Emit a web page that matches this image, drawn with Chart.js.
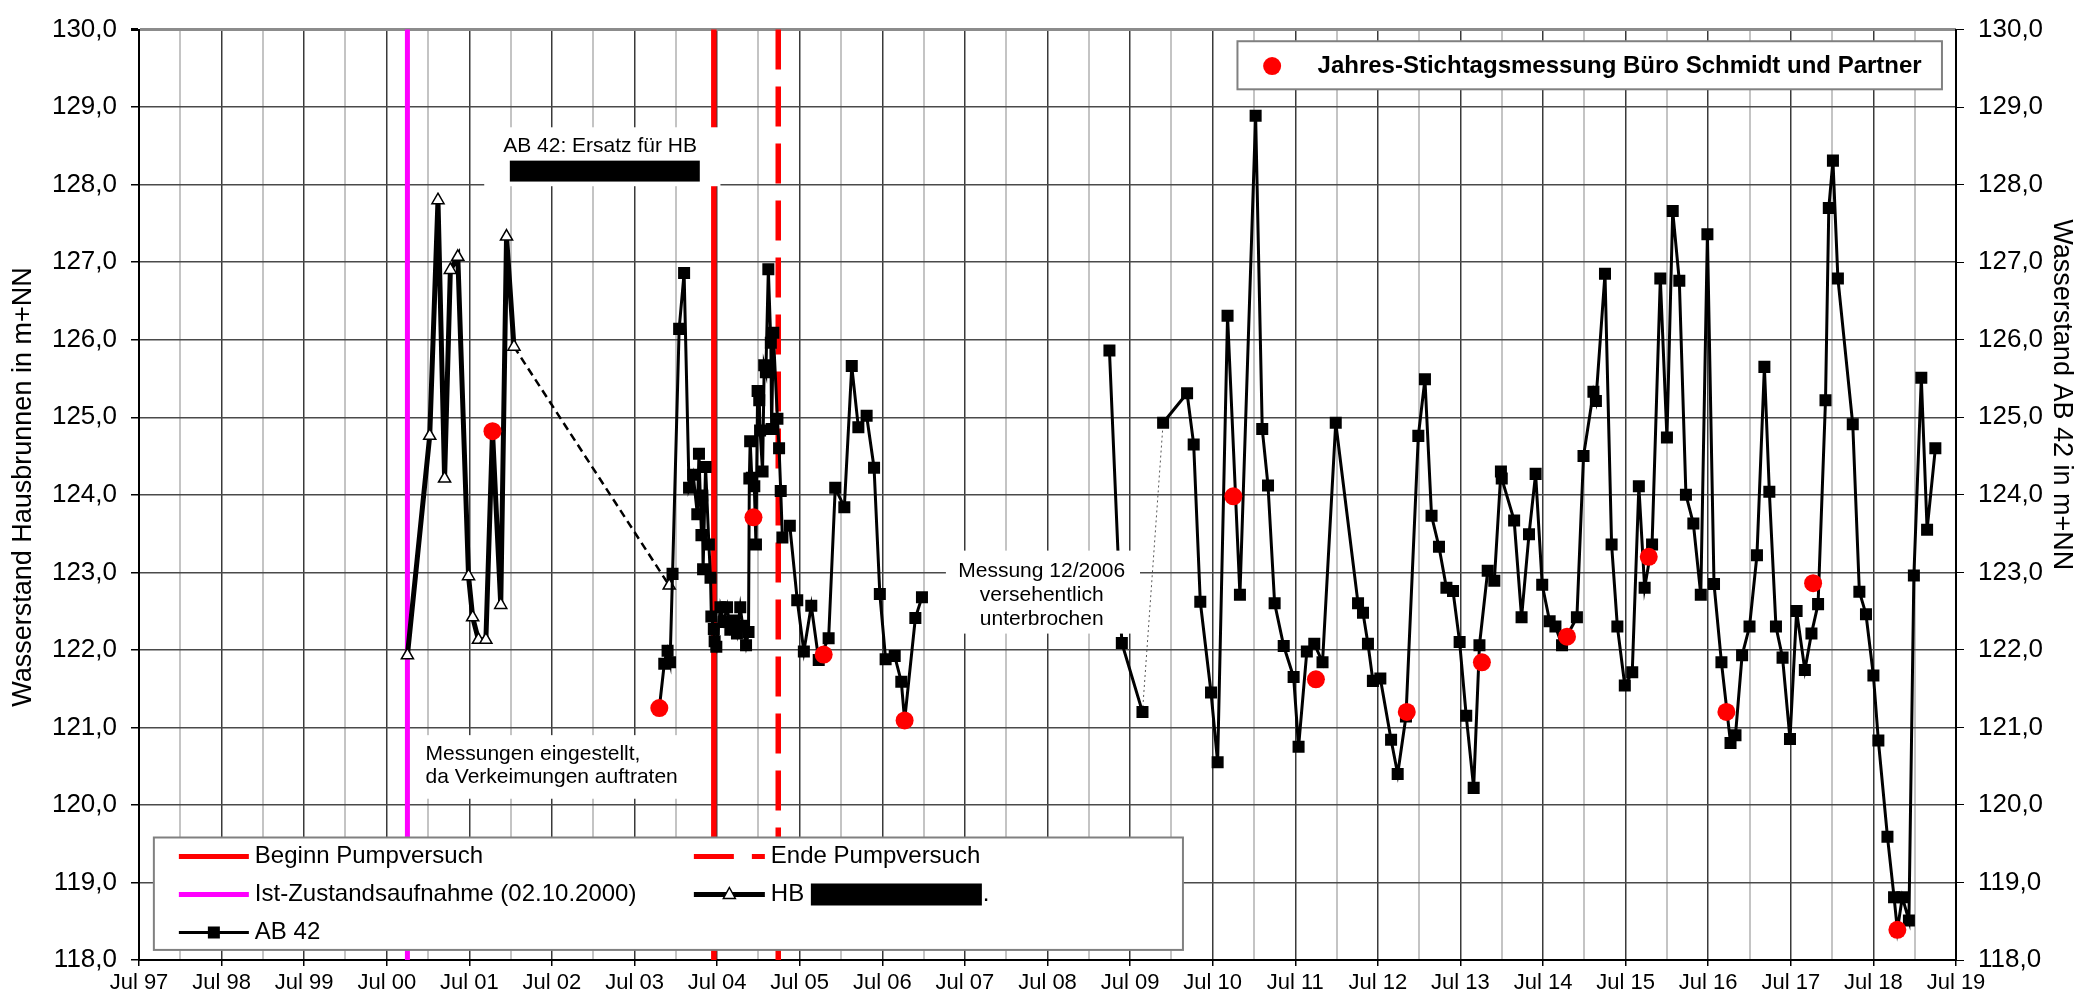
<!DOCTYPE html>
<html>
<head>
<meta charset="utf-8">
<script src="https://cdn.jsdelivr.net/npm/chart.js"></script>
<style>
html, body { margin: 0; padding: 0; background: #fff; }
</style>
</head>
<body>
<canvas id="levelChart" width="2076" height="997"></canvas>
<script>
// x values are decimal years (2004.5 = Jul 04), y values in m+NN
const tickLabels = ["Jul 97", "Jul 98", "Jul 99", "Jul 00", "Jul 01", "Jul 02", "Jul 03", "Jul 04",
    "Jul 05", "Jul 06", "Jul 07", "Jul 08", "Jul 09", "Jul 10", "Jul 11", "Jul 12", "Jul 13",
    "Jul 14", "Jul 15", "Jul 16", "Jul 17", "Jul 18", "Jul 19"]

const hbDates = [2000.75, 2001.02, 2001.12, 2001.20, 2001.27, 2001.36, 2001.49, 2001.54,
    2001.61, 2001.70, 2001.78, 2001.88, 2001.95, 2002.04, 2003.92]
const hbLevels = [121.93, 124.76, 127.80, 124.21, 126.90, 127.07, 122.95, 122.42,
    122.13, 122.13, 124.82, 122.58, 127.33, 125.91, 122.83]

const ab42Dates = [
    2003.80, 2003.86, 2003.90, 2003.93, 2003.96, 2004.04, 2004.10, 2004.16, 2004.21, 2004.26,
    2004.28, 2004.31, 2004.32, 2004.33, 2004.36, 2004.40, 2004.42, 2004.43, 2004.46, 2004.47,
    2004.49, 2004.54, 2004.58, 2004.62, 2004.66, 2004.70, 2004.74, 2004.78, 2004.81, 2004.85,
    2004.88, 2004.89, 2004.90, 2004.92, 2004.95, 2004.97, 2004.99, 2005.01, 2005.02, 2005.05,
    2005.07, 2005.09, 2005.12, 2005.15, 2005.16, 2005.18, 2005.23, 2005.25, 2005.27, 2005.29,
    2005.38, 2005.47, 2005.55, 2005.64, 2005.73, 2005.85, 2005.93, 2006.04, 2006.13, 2006.21,
    2006.31, 2006.40, 2006.47, 2006.54, 2006.65, 2006.73, 2006.77, 2006.90, 2006.98, 2008.00,
    2009.25, 2009.40, 2009.65, 2009.90, 2010.19, 2010.27, 2010.35, 2010.48, 2010.56, 2010.68,
    2010.83, 2011.02, 2011.10, 2011.17, 2011.25, 2011.36, 2011.48, 2011.54, 2011.64, 2011.73,
    2011.83, 2011.99, 2012.26, 2012.32, 2012.38, 2012.44, 2012.53, 2012.66, 2012.74, 2012.84,
    2012.99, 2013.07, 2013.15, 2013.24, 2013.33, 2013.41, 2013.49, 2013.57, 2013.66, 2013.73,
    2013.83, 2013.91, 2013.99, 2014.00, 2014.15, 2014.24, 2014.33, 2014.41, 2014.49, 2014.58,
    2014.65, 2014.73, 2014.91, 2014.99, 2015.11, 2015.14, 2015.25, 2015.33, 2015.40, 2015.49,
    2015.58, 2015.66, 2015.73, 2015.82, 2015.92, 2016.00, 2016.07, 2016.15, 2016.23, 2016.32,
    2016.41, 2016.49, 2016.57, 2016.66, 2016.77, 2016.83, 2016.91, 2017.00, 2017.09, 2017.18,
    2017.24, 2017.32, 2017.40, 2017.49, 2017.57, 2017.67, 2017.75, 2017.83, 2017.92, 2017.96,
    2018.01, 2018.07, 2018.25, 2018.33, 2018.41, 2018.50, 2018.56, 2018.67, 2018.75, 2018.79,
    2018.85, 2018.93, 2018.99, 2019.08, 2019.15, 2019.25]
const ab42Levels = [
    121.25, 121.82, 121.99, 121.84, 122.98, 126.14, 126.86, 124.09, 124.26, 123.75,
    124.53, 123.48, 123.99, 123.04, 124.36, 123.36, 122.93, 122.43, 122.27, 122.11,
    122.04, 122.55, 122.36, 122.55, 122.26, 122.38, 122.21, 122.55, 122.31, 122.06,
    122.23, 124.21, 124.69, 124.22, 124.11, 123.36, 125.34, 125.22, 124.83, 124.30,
    125.67, 125.58, 126.91, 125.96, 124.85, 126.09, 124.98, 124.60, 124.05, 123.45,
    123.60, 122.64, 121.98, 122.57, 121.87, 122.15, 124.09, 123.84, 125.66, 124.87,
    125.02, 124.35, 122.72, 121.88, 121.92, 121.59, 121.09, 122.41, 122.68, null,
    125.86, 122.09, 121.20, 124.93, 125.31, 124.65, 122.62, 121.45, 120.55, 126.31,
    122.71, 128.89, 124.85, 124.12, 122.60, 122.05, 121.65, 120.75, 121.98, 122.08,
    121.84, 124.93, 122.60, 122.48, 122.08, 121.60, 121.63, 120.84, 120.40, 121.14,
    124.76, 125.49, 123.73, 123.33, 122.80, 122.76, 122.10, 121.15, 120.22, 122.06,
    123.02, 122.89, 124.30, 124.21, 123.67, 122.42, 123.49, 124.27, 122.84, 122.37,
    122.30, 122.06, 122.42, 124.50, 125.33, 125.21, 126.85, 123.36, 122.30, 121.54,
    121.71, 124.11, 122.80, 123.36, 126.79, 124.74, 127.66, 126.76, 124.00, 123.63,
    122.71, 127.36, 122.85, 121.84, 120.80, 120.90, 121.93, 122.30, 123.22, 125.65,
    124.04, 122.30, 121.90, 120.85, 122.50, 121.74, 122.21, 122.59, 125.22, 127.70,
    128.31, 126.79, 124.91, 122.75, 122.46, 121.67, 120.83, 119.59, 118.81, 118.39,
    118.81, 118.51, 122.96, 125.51, 123.55, 124.60]
// the interrupted stretch after 12/2006 restarts with a dotted link
const ab42DottedFrom = 2009.65

const stichDates = [2001.78, 2003.80, 2004.94, 2005.79, 2006.77, 2010.75, 2011.75,
    2012.85, 2013.76, 2014.79, 2015.78, 2016.72, 2017.77, 2018.79]
const stichLevels = [124.82, 121.25, 123.71, 121.94, 121.09, 123.98, 121.62,
    121.20, 121.84, 122.17, 123.20, 121.20, 122.86, 118.39]

const istZustand = 2000.75
const pumpBegin = 2004.46
const pumpEnd = 2005.24

const xStart = 1997.5
const xEnd = 2019.5
const fontFamily = "'Liberation Sans', Arial, sans-serif"

const toPoints = (xs, ys) => xs.map((x, i) => ({x: x, y: ys[i]}))
const isJuly = v => Math.abs(v - Math.floor(v) - 0.5) < 0.01

const halfYears = []
for(let v = xStart; v <= xEnd + 0.001; v += 0.5)
{
    halfYears.push(v)
}

function vline(chart, value, color, width, dash)
{
    const {ctx, chartArea, scales} = chart
    const px = scales.x.getPixelForValue(value)
    ctx.save()
    ctx.strokeStyle = color
    ctx.lineWidth = width
    ctx.setLineDash(dash)
    ctx.beginPath()
    ctx.moveTo(px, chartArea.top)
    ctx.lineTo(px, chartArea.bottom)
    ctx.stroke()
    ctx.restore()
}

function text(ctx, str, x, y, size, align, bold)
{
    ctx.font = (bold ? "bold " : "") + size + "px " + fontFamily
    ctx.fillStyle = "#000"
    ctx.textAlign = align
    ctx.textBaseline = "middle"
    ctx.fillText(str, x, y)
}

function sampleLine(ctx, x0, x1, y, color, width, dash)
{
    ctx.save()
    ctx.strokeStyle = color
    ctx.lineWidth = width
    ctx.setLineDash(dash)
    ctx.beginPath()
    ctx.moveTo(x0, y)
    ctx.lineTo(x1, y)
    ctx.stroke()
    ctx.restore()
}

const markerLines = {
    id: "markerLines",
    beforeDatasetsDraw(chart)
    {
        vline(chart, istZustand, "#ff00ff", 5, [])
        vline(chart, pumpBegin, "#ff0000", 5.5, [])
        vline(chart, pumpEnd, "#ff0000", 5.5, [40, 17])
    }
}

const notes = {
    id: "notes",
    afterDatasetsDraw(chart)
    {
        const {ctx, scales} = chart
        const px = v => scales.x.getPixelForValue(v)
        const py = v => scales.y.getPixelForValue(v)
        const box = (x0, x1, y0, y1, stroke) =>
        {
            ctx.save()
            ctx.fillStyle = "#fff"
            ctx.fillRect(px(x0), py(y0), px(x1) - px(x0), py(y1) - py(y0))
            if(stroke)
            {
                ctx.strokeStyle = "#808080"
                ctx.lineWidth = 2
                ctx.strokeRect(px(x0), py(y0), px(x1) - px(x0), py(y1) - py(y0))
            }
            ctx.restore()
        }

        // AB 42 note with blacked out name
        box(2001.68, 2004.54, 128.74, 127.98, false)
        text(ctx, "AB 42: Ersatz für HB", px(2001.91), py(128.49), 21, "left")
        ctx.fillStyle = "#000"
        ctx.fillRect(px(2001.99), py(128.31), px(2004.29) - px(2001.99), py(128.04) - py(128.31))

        box(2000.87, 2004.03, 120.9, 120.08, false)
        text(ctx, "Messungen eingestellt,", px(2000.97), py(120.66), 21, "left")
        text(ctx, "da Verkeimungen auftraten", px(2000.97), py(120.36), 21, "left")

        box(2007.27, 2009.62, 123.28, 122.21, false)
        text(ctx, "Messung 12/2006", px(2008.43), py(123.01), 21, "center")
        text(ctx, "versehentlich", px(2008.43), py(122.71), 21, "center")
        text(ctx, "unterbrochen", px(2008.43), py(122.40), 21, "center")

        // top right legend
        box(2010.8, 2019.33, 129.85, 129.23, true)
        ctx.fillStyle = "#ff0000"
        ctx.beginPath()
        ctx.arc(px(2011.22), py(129.53), 9, 0, Math.PI * 2)
        ctx.fill()
        text(ctx, "Jahres-Stichtagsmessung Büro Schmidt und Partner", px(2011.77), py(129.53), 24, "left", true)

        // bottom left legend
        box(1997.68, 2010.14, 119.58, 118.13, true)
        const L = px(1997.68)
        const T = py(119.58)
        const rows = [T + 19, T + 57, T + 95]
        sampleLine(ctx, L + 25, L + 95, rows[0], "#ff0000", 5, [])
        text(ctx, "Beginn Pumpversuch", L + 101, rows[0], 24, "left")
        sampleLine(ctx, L + 540, L + 611, rows[0], "#ff0000", 5, [40, 18])
        text(ctx, "Ende Pumpversuch", L + 617, rows[0], 24, "left")

        sampleLine(ctx, L + 25, L + 95, rows[1], "#ff00ff", 5, [])
        text(ctx, "Ist-Zustandsaufnahme (02.10.2000)", L + 101, rows[1], 24, "left")
        sampleLine(ctx, L + 540, L + 611, rows[1], "#000", 5, [])
        const tx = L + 575.5
        ctx.beginPath()
        ctx.moveTo(tx, rows[1] - 7)
        ctx.lineTo(tx + 6, rows[1] + 4)
        ctx.lineTo(tx - 6, rows[1] + 4)
        ctx.closePath()
        ctx.fillStyle = "#fff"
        ctx.fill()
        ctx.strokeStyle = "#000"
        ctx.lineWidth = 1.5
        ctx.stroke()
        text(ctx, "HB", L + 617, rows[1], 24, "left")
        ctx.fillStyle = "#000"
        ctx.fillRect(L + 657, rows[1] - 11, 171, 22)
        text(ctx, ".", L + 829, rows[1], 24, "left")

        sampleLine(ctx, L + 25, L + 95, rows[2], "#000", 3, [])
        ctx.fillStyle = "#000"
        ctx.fillRect(L + 54, rows[2] - 6, 12, 12)
        text(ctx, "AB 42", L + 101, rows[2], 24, "left")

        // axis titles
        ctx.save()
        ctx.translate(24, py(124.1))
        ctx.rotate(-Math.PI / 2)
        text(ctx, "Wasserstand Hausbrunnen in m+NN", 0, 0, 27, "center")
        ctx.restore()
        ctx.save()
        ctx.translate(2061, py(125.29))
        ctx.rotate(Math.PI / 2)
        text(ctx, "Wasserstand AB 42 in m+NN", 0, 0, 27, "center")
        ctx.restore()
    }
}

const levelTicks = {
    stepSize: 1,
    padding: 14,
    color: "#000",
    font: {family: fontFamily, size: 26},
    callback: v => v.toFixed(1).replace(".", ",")
}

const graphConfig = {
    type: "line",
    data: {
        datasets: [{
            label: "Jahres-Stichtagsmessung Büro Schmidt und Partner",
            data: toPoints(stichDates, stichLevels),
            yAxisID: "y2",
            showLine: false,
            pointStyle: "circle",
            pointRadius: 9,
            pointBackgroundColor: "#ff0000",
            pointBorderWidth: 0,
        }, {
            label: "AB 42",
            data: toPoints(ab42Dates, ab42Levels),
            yAxisID: "y2",
            borderColor: "#000",
            borderWidth: 3,
            pointStyle: "rect",
            pointRadius: 8.5,
            pointBackgroundColor: "#000",
            pointBorderWidth: 0,
            spanGaps: false,
            segment: {
                borderDash: c => c.p0.parsed.x === ab42DottedFrom ? [2, 3] : undefined,
                borderWidth: c => c.p0.parsed.x === ab42DottedFrom ? 1 : undefined,
                borderColor: c => c.p0.parsed.x === ab42DottedFrom ? "#555" : undefined,
            },
        }, {
            label: "HB",
            data: toPoints(hbDates, hbLevels),
            yAxisID: "y",
            borderColor: "#000",
            borderWidth: 5,
            pointStyle: "triangle",
            pointRadius: 7,
            pointBackgroundColor: "#fff",
            pointBorderColor: "#000",
            pointBorderWidth: 1.5,
            segment: {
                borderDash: c => c.p1DataIndex === hbDates.length - 1 ? [8, 5] : undefined,
                borderWidth: c => c.p1DataIndex === hbDates.length - 1 ? 2.5 : undefined,
            },
        }],
    },
    options: {
        responsive: false,
        devicePixelRatio: 1,
        animation: false,
        events: [],
        layout: {
            padding: {top: 23, left: 0, right: 0, bottom: 0}
        },
        scales: {
            x: {
                type: "linear",
                min: xStart,
                max: xEnd,
                afterBuildTicks: axis => { axis.ticks = halfYears.map(v => ({value: v})) },
                afterFit: axis => { axis.height = 37 },
                ticks: {
                    autoSkip: false,
                    maxRotation: 0,
                    padding: 4,
                    color: "#000",
                    font: {family: fontFamily, size: 22},
                    callback: v => isJuly(v) ? tickLabels[Math.round(v - xStart)] : "",
                },
                grid: {
                    color: c => c.tick && isJuly(c.tick.value) ? "#3a3a3a" : "#c4c4c4",
                    lineWidth: c => c.tick && isJuly(c.tick.value) ? 1.5 : 2,
                    tickLength: 6,
                    tickColor: c => c.tick && isJuly(c.tick.value) ? "#000" : "rgba(0,0,0,0)",
                },
                border: {color: "#000", width: 2},
            },
            y: {
                position: "left",
                min: 118,
                max: 130,
                afterFit: axis => { axis.width = 139 },
                ticks: levelTicks,
                grid: {
                    color: c => c.tick && c.tick.value === 130 ? "#8c8c8c" : "#4a4a4a",
                    lineWidth: c => c.tick && c.tick.value === 130 ? 3 : 1.5,
                    tickLength: 8,
                    tickColor: "#000",
                },
                border: {color: "#000", width: 2},
            },
            y2: {
                position: "right",
                min: 118,
                max: 130,
                afterFit: axis => { axis.width = 120 },
                ticks: levelTicks,
                grid: {
                    drawOnChartArea: false,
                    tickLength: 8,
                    tickColor: "#000",
                },
                border: {color: "#000", width: 2},
            },
        },
        plugins: {
            legend: {display: false},
            tooltip: {enabled: false},
        },
    },
    plugins: [markerLines, notes],
}

const ctx = document.getElementById("levelChart")
const levelChart = new Chart(ctx, graphConfig)
</script>
</body>
</html>
